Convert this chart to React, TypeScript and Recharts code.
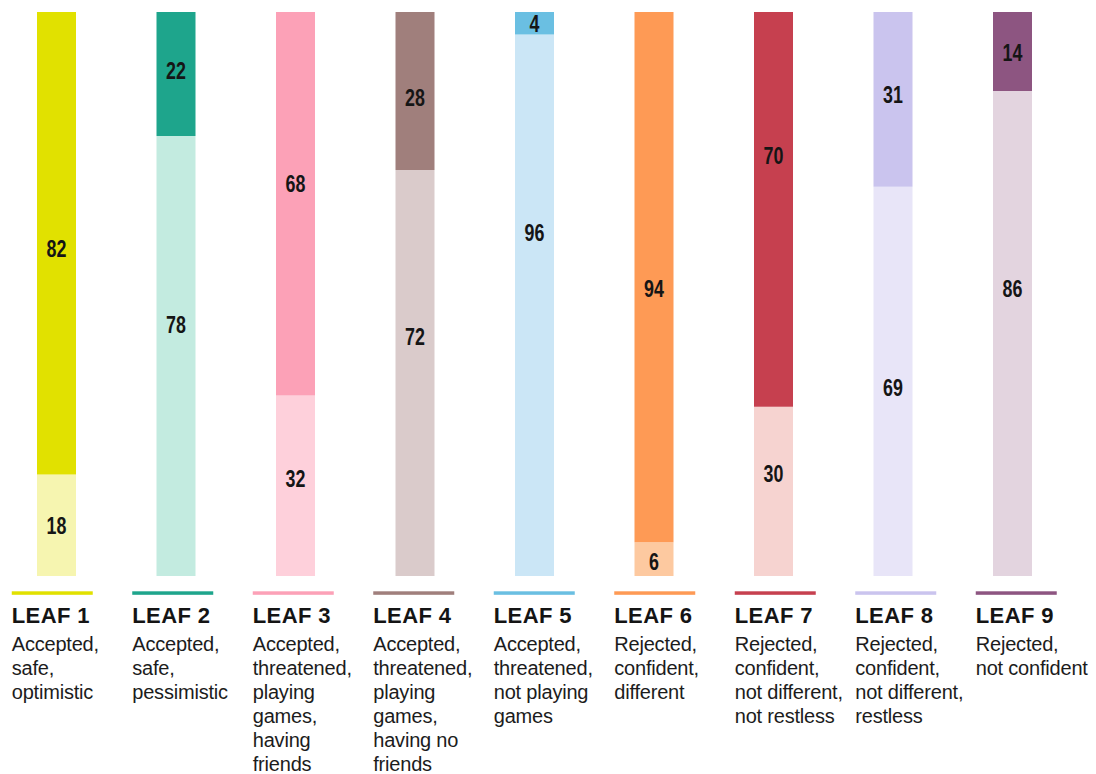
import { BarChart, Bar, XAxis, YAxis, Cell, LabelList } from 'recharts';

/* ─── Data ───────────────────────────────────────────────────────────────── */

const leaves = ['LEAF 1', 'LEAF 2', 'LEAF 3', 'LEAF 4', 'LEAF 5', 'LEAF 6', 'LEAF 7', 'LEAF 8', 'LEAF 9'];

const descriptions = [
  ['Accepted,', 'safe,', 'optimistic'],
  ['Accepted,', 'safe,', 'pessimistic'],
  ['Accepted,', 'threatened,', 'playing', 'games,', 'having', 'friends'],
  ['Accepted,', 'threatened,', 'playing', 'games,', 'having no', 'friends'],
  ['Accepted,', 'threatened,', 'not playing', 'games'],
  ['Rejected,', 'confident,', 'different'],
  ['Rejected,', 'confident,', 'not different,', 'not restless'],
  ['Rejected,', 'confident,', 'not different,', 'restless'],
  ['Rejected,', 'not confident'],
];

const topValues    = [82, 22, 68, 28, 4, 94, 70, 31, 14];
const bottomValues = [18, 78, 32, 72, 96, 6, 30, 69, 86];

/* ─── Styles ─────────────────────────────────────────────────────────────── */

const TOP_COLORS    = ['#e1e100', '#1ea58c', '#fca1b7', '#a07f7c', '#6abfe2', '#fe9a55', '#c6404f', '#cac4ee', '#8d5581'];
const BOTTOM_COLORS = ['#f6f5b0', '#c3ebe0', '#fed0db', '#dacbcb', '#cbe6f6', '#fdc9a0', '#f6d3d0', '#e8e5f8', '#e3d4df'];

// hand placed label nudges (px) as in the original figure
const TOP_LABEL_DY    = [5, -3, -20, 7, 0, 11, -54, -5, 1];
const BOTTOM_LABEL_DY = [0, -31, -7, -36, -73, 2, -18, 6, -45];

const FONT = '"Liberation Sans", Arial, sans-serif';

const data = leaves.map((leaf, i) => ({ leaf, top: topValues[i], bottom: bottomValues[i] }));

/* ─── Label / tick renderers ─────────────────────────────────────────────── */

function makeLabel(dys: number[]) {
  return (props: any) => {
    const { x, y, width, height, value, index } = props;
    const cx = Number(x) + Number(width) / 2;
    const cy = Number(y) + Number(height) / 2 + (dys[index] ?? 0);
    return (
      <g transform={`translate(${cx},${cy}) scale(0.76,1)`}>
        <text x={0} y={0} textAnchor="middle" dominantBaseline="central"
          fontFamily={FONT} fontWeight="bold" fontSize={23.5} fill="#151515">
          {value}
        </text>
      </g>
    );
  };
}

function LeafTick(props: any) {
  const { x, y, payload } = props;
  const i = leaves.indexOf(payload.value);
  // the legend blocks are spaced a touch wider than the bars
  const left = x - 45 + i * 1.0;
  const lines = descriptions[i] || [];
  return (
    <g>
      <rect x={left} y={y + 15.3} width={81} height={3.5} fill={TOP_COLORS[i]} />
      <text x={left} y={y + 47} fontFamily={FONT} fontWeight="bold" fontSize={22}
        letterSpacing={0.4} fill="#141414">
        {leaves[i]}
      </text>
      <text x={left} y={y + 75} fontFamily={FONT} fontSize={20} letterSpacing={-0.2} fill="#1c1c1c">
        {lines.map((l, k) => (
          <tspan key={k} x={left} dy={k === 0 ? 0 : 24}>{l}</tspan>
        ))}
      </text>
    </g>
  );
}

/* ─── Chart ──────────────────────────────────────────────────────────────── */

export default function App() {
  return (
    <div style={{ position: 'absolute', left: -3, top: 0, background: '#fff' }}>
      <BarChart width={1099} height={774} data={data}
        margin={{ top: 12, right: 23.5, left: 0, bottom: 0 }} barCategoryGap={0}>
        <XAxis dataKey="leaf" interval={0} height={198} axisLine={false} tickLine={false}
          tickSize={0} tickMargin={0} tick={<LeafTick />} />
        <YAxis hide domain={[0, 100]} />
        <Bar dataKey="bottom" stackId="s" barSize={39} isAnimationActive={false}>
          {data.map((_, i) => <Cell key={i} fill={BOTTOM_COLORS[i]} />)}
          <LabelList dataKey="bottom" content={makeLabel(BOTTOM_LABEL_DY)} />
        </Bar>
        <Bar dataKey="top" stackId="s" barSize={39} isAnimationActive={false}>
          {data.map((_, i) => <Cell key={i} fill={TOP_COLORS[i]} />)}
          <LabelList dataKey="top" content={makeLabel(TOP_LABEL_DY)} />
        </Bar>
      </BarChart>
    </div>
  );
}
